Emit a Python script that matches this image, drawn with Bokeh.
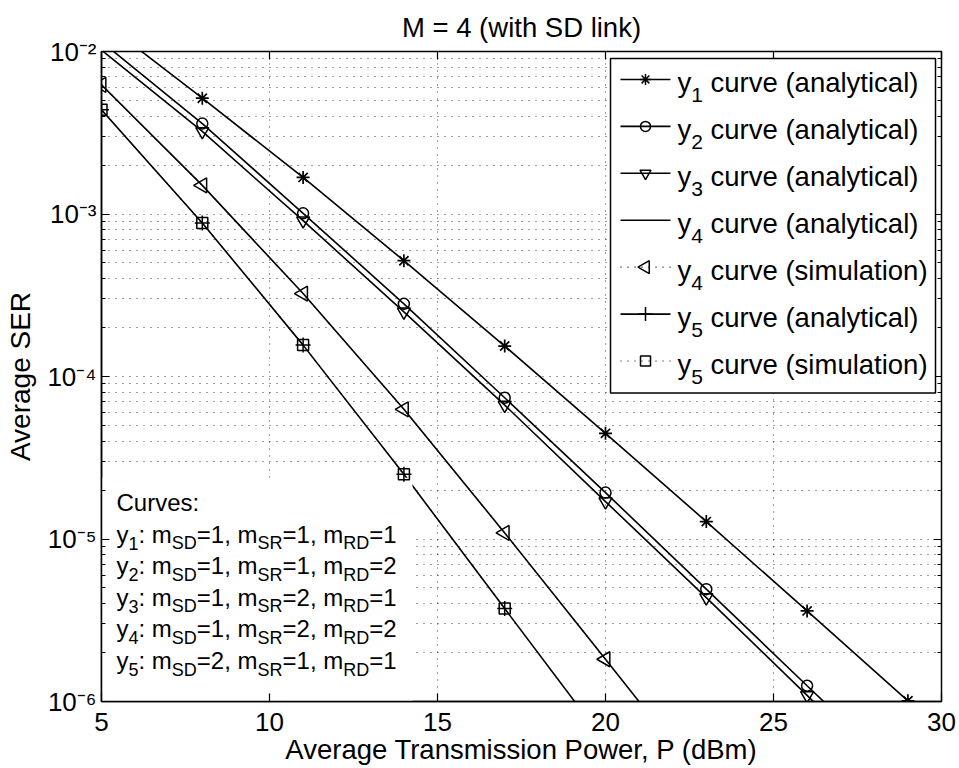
import numpy as np
from bokeh.plotting import figure
from bokeh.models import (Range1d, FixedTicker, LinearAxis, LogAxis, CustomJSTickFormatter)
from bokeh.embed import file_html
from bokeh.resources import INLINE
from bokeh.core.properties import value

# ---------------- data ----------------
x_ticks = [5, 10, 15, 20, 25, 30]
y_major_ticks = [1e-6, 1e-5, 1e-4, 1e-3, 1e-2]
y_minor_ticks = [m * d for d in [1e-6, 1e-5, 1e-4, 1e-3] for m in range(2, 10)]

power_db = [5, 8, 11, 14, 17, 20, 23, 26, 29]
y1_analytical = [1.55e-2, 5.16e-3, 1.68e-3, 5.16e-4, 1.54e-4, 4.47e-5, 1.28e-5, 3.61e-6, 1.01e-6]
y2_analytical = [1.15e-2, 3.60e-3, 1.01e-3, 2.80e-4, 7.40e-5, 1.93e-5, 4.91e-6, 1.25e-6, 3.2e-7]
y3_analytical = [1.02e-2, 3.22e-3, 9.10e-4, 2.50e-4, 6.67e-5, 1.70e-5, 4.36e-6, 1.09e-6, 2.7e-7]

power_y4 = [5, 8, 11, 14, 17, 20, 23]
y4_analytical = [6.24e-3, 1.50e-3, 3.24e-4, 6.28e-5, 1.09e-5, 1.82e-6, 3.0e-7]
power_y4_sim = [5, 8, 11, 14, 17, 20]
y4_simulation = [6.24e-3, 1.50e-3, 3.24e-4, 6.28e-5, 1.09e-5, 1.82e-6]

power_y5 = [5, 8, 11, 14, 17, 20]
y5_analytical = [4.38e-3, 8.81e-4, 1.56e-4, 2.50e-5, 3.73e-6, 5.6e-7]
power_y5_sim = [5, 8, 11, 14, 17]
y5_simulation = [4.38e-3, 8.81e-4, 1.56e-4, 2.50e-5, 3.73e-6]

# legend entries
leg_curve = ["1", "2", "3", "4", "4", "5", "5"]
leg_kind = ["analytical", "analytical", "analytical", "analytical", "simulation",
            "analytical", "simulation"]
leg_line = ["solid", "solid", "solid", "solid", "dotted", "solid", "dotted"]
leg_marker = ["asterisk", "circle", "inverted_triangle", None, "triangle", "cross", "square"]

# annotation entries
curve_names = ["1", "2", "3", "4", "5"]
m_sd = [1, 1, 1, 1, 2]
m_sr = [1, 1, 2, 2, 1]
m_rd = [1, 2, 1, 2, 1]

title_text = "M = 4 (with SD link)"
x_label = "Average Transmission Power, P (dBm)"
y_label = "Average SER"

# ---------------- layout constants ----------------
FONT = "Liberation Sans"
W, H = 959, 768
FL, FR, FT, FB = 101, 941, 50, 701
X0, X1 = 5, 30
YLO, YHI = 1e-6, 1e-2
TEXT_DY = -5   # small correction of the drawn text baseline


def x_from_px(px):
    return X0 + (px - FL) / (FR - FL) * (X1 - X0)


def y_from_px(py):
    lo, hi = np.log10(YLO), np.log10(YHI)
    return 10 ** (hi - (py - FT) / (FB - FT) * (hi - lo))


def in_range(xs, ys):
    pts = [(a, b) for a, b in zip(xs, ys) if YLO * 0.999 <= b <= YHI * 1.001]
    return [a for a, _ in pts], [b for _, b in pts]


ARIAL = {'C': 722, 'u': 556, 'r': 333, 'v': 500, 'e': 556, 's': 500, ':': 278, 'y': 500,
         '0': 556, '1': 556, '2': 556, '3': 556, '4': 556, '5': 556, ' ': 278, 'm': 833,
         'S': 667, 'D': 722, 'R': 722, '=': 584, ',': 278, 'c': 500, '(': 333, ')': 333,
         'a': 556, 'n': 556, 'l': 222, 't': 278, 'i': 222, 'o': 556}


def text_w(s, size):
    return sum(ARIAL.get(c, 556) for c in s) / 1000.0 * size


p = figure(width=W, height=H, x_range=Range1d(X0, X1), y_range=Range1d(YLO, YHI),
           y_axis_type="log", output_backend="svg", toolbar_location=None,
           min_border_left=FL, min_border_right=W - FR, min_border_top=FT,
           min_border_bottom=H - FB)
p.background_fill_color = "white"
p.border_fill_color = "white"
p.outline_line_color = "black"
p.outline_line_width = 1.5

# title
p.title.text = title_text
p.title.align = "center"
p.title.text_font = FONT
p.title.text_font_size = "27.5px"
p.title.text_font_style = "normal"
p.title.text_color = "black"
p.title.standoff = 18

# primary axes
xa = p.below[0]
xa.ticker = FixedTicker(ticks=x_ticks)
xa.axis_label = x_label
ya = p.left[0]
ya.ticker = FixedTicker(ticks=y_major_ticks, minor_ticks=y_minor_ticks)
ya.axis_label = y_label
ya.formatter = CustomJSTickFormatter(code="""
const sup = {'-': '\u207b', '0': '\u2070', '1': '\u00b9', '2': '\u00b2', '3': '\u00b3',
             '4': '\u2074', '5': '\u2075', '6': '\u2076', '7': '\u2077', '8': '\u2078', '9': '\u2079'};
const e = Math.round(Math.log10(tick));
return '10' + String(e).split('').map(c => sup[c]).join('');
""")
for ax in (xa, ya):
    ax.axis_line_color = "black"
    ax.axis_line_width = 1.5
    ax.major_tick_in = 8
    ax.major_tick_out = 0
    ax.minor_tick_in = 4
    ax.minor_tick_out = 0
    ax.major_tick_line_width = 1.2
    ax.minor_tick_line_width = 1.2
    ax.major_label_text_font = FONT
    ax.major_label_text_font_size = "26px"
    ax.major_label_text_color = "black"
    ax.axis_label_text_font = FONT
    ax.axis_label_text_font_style = "normal"
    ax.axis_label_text_color = "black"
xa.axis_label_text_font_size = "27.5px"
ya.axis_label_text_font_size = "28px"
xa.major_label_standoff = 11
xa.axis_label_standoff = 0
ya.major_label_standoff = 5
ya.axis_label_standoff = 8

# mirrored axes (ticks only, empty labels)
top_axis = LinearAxis(ticker=FixedTicker(ticks=x_ticks),
                      formatter=CustomJSTickFormatter(code="return '';"))
right_axis = LogAxis(ticker=FixedTicker(ticks=y_major_ticks, minor_ticks=y_minor_ticks),
                     formatter=CustomJSTickFormatter(code="return '';"))
for ax in (top_axis, right_axis):
    ax.axis_line_color = None
    ax.major_tick_in = 8
    ax.major_tick_out = 0
    ax.minor_tick_in = 4
    ax.minor_tick_out = 0
    ax.major_tick_line_width = 1.2
    ax.minor_tick_line_width = 1.2
    ax.major_label_text_font_size = "1px"
    ax.major_label_standoff = 0
p.add_layout(top_axis, "above")
p.add_layout(right_axis, "right")

# grids
for g in (p.xgrid, p.ygrid):
    g.grid_line_color = "black"
    g.grid_line_dash = "1 6"
    g.grid_line_alpha = 0.75
    g.grid_line_width = 1
p.ygrid.minor_grid_line_color = "black"
p.ygrid.minor_grid_line_dash = "1 6"
p.ygrid.minor_grid_line_alpha = 0.75

LW = 1.6
MLW = 1.5

# ---------------- curves: lines ----------------
p.line(power_db, y1_analytical, line_color="black", line_width=LW)
p.line(power_db, y2_analytical, line_color="black", line_width=LW)
p.line(power_db, y3_analytical, line_color="black", line_width=LW)
p.line(power_y4, y4_analytical, line_color="black", line_width=LW)
p.line(power_y4_sim, y4_simulation, line_color="black", line_width=1.2, line_dash="1 6")
p.line(power_y5, y5_analytical, line_color="black", line_width=LW)
p.line(power_y5_sim, y5_simulation, line_color="black", line_width=1.2, line_dash="1 6")

# white background of the annotation text box (above the lines, below the markers)
p.quad(left=[X0], right=[x_from_px(412)], bottom=[YLO], top=[y_from_px(477)],
       fill_color="white", line_color=None)

# ---------------- curves: markers ----------------
mx, my = in_range(power_db, y1_analytical)
p.scatter(mx, my, marker="asterisk", size=13, line_color="black", line_width=1.7)
mx, my = in_range(power_db, y2_analytical)
p.scatter(mx, my, marker="circle", size=11, line_color="black", line_width=MLW, fill_color=None)
mx, my = in_range(power_db, y3_analytical)
p.scatter(mx, my, marker="inverted_triangle", size=13, line_color="black", line_width=MLW,
          fill_color=None)
mx, my = in_range(power_y4_sim, y4_simulation)
p.scatter(mx, my, marker="triangle", angle=np.pi / 2, size=15, line_color="black",
          line_width=MLW, fill_color=None)
mx, my = in_range(power_y5, y5_analytical)
p.scatter(mx, my, marker="cross", size=15, line_color="black", line_width=MLW)
mx, my = in_range(power_y5_sim, y5_simulation)
p.scatter(mx, my, marker="square", size=11, line_color="black", line_width=MLW, fill_color=None)


def draw_text_pieces(pieces, level="glyph"):
    """pieces: list of (text, px, py, size) in picture pixels."""
    by_size = {}
    for t, px, py, sz in pieces:
        by_size.setdefault(sz, []).append((t, px, py))
    for sz, lst in by_size.items():
        n = len(lst)
        p.text(x=[X0] * n, y=[YLO] * n, text=[a[0] for a in lst],
               x_offset=[a[1] - FL for a in lst],
               y_offset=[a[2] - FB + TEXT_DY for a in lst],
               text_font=value(FONT), text_font_size="%gpx" % sz,
               text_baseline="alphabetic", text_align="left", text_color="black",
               level=level)


# ---------------- annotation text with subscripts ----------------
MAIN, SUB, SUB_SHIFT = 24, 18, 9
ann_left = 116
baselines = [507, 538.6, 570.2, 601.8, 633.4, 665]
pieces = [("Curves:", ann_left, baselines[0], MAIN)]
for i, name in enumerate(curve_names):
    segs = [("y", False), (name, True), (": m", False), ("SD", True),
            ("=%d, m" % m_sd[i], False), ("SR", True), ("=%d, m" % m_sr[i], False),
            ("RD", True), ("=%d" % m_rd[i], False)]
    cx = ann_left
    by = baselines[i + 1]
    for s, is_sub in segs:
        if is_sub:
            pieces.append((s, cx, by + SUB_SHIFT, SUB))
            cx += text_w(s, SUB)
        else:
            pieces.append((s, cx, by, MAIN))
            cx += text_w(s, MAIN)
draw_text_pieces(pieces)

# ---------------- legend (drawn by hand, above the axes) ----------------
LG_L, LG_R, LG_T, LG_B = 610, 935, 57, 392
row_py = [78 + 47 * i for i in range(len(leg_curve))]
p.quad(left=[x_from_px(LG_L)], right=[x_from_px(LG_R)], bottom=[y_from_px(LG_B)],
       top=[y_from_px(LG_T)], fill_color="white", line_color="black", line_width=1.5,
       level="overlay")
solid_xs, solid_ys, dot_xs, dot_ys = [], [], [], []
for style, py in zip(leg_line, row_py):
    seg_x = [x_from_px(620), x_from_px(670)]
    seg_y = [y_from_px(py), y_from_px(py)]
    if style == "solid":
        solid_xs.append(seg_x); solid_ys.append(seg_y)
    else:
        dot_xs.append(seg_x); dot_ys.append(seg_y)
p.multi_line(solid_xs, solid_ys, line_color="black", line_width=LW, level="overlay")
p.multi_line(dot_xs, dot_ys, line_color="black", line_width=1.2, line_dash="1 6",
             level="overlay")
leg_sizes = {"asterisk": 11, "circle": 10, "inverted_triangle": 11, "triangle": 13,
             "cross": 14, "square": 10}
mk_x, mk_y, mk_m, mk_s, mk_a = [], [], [], [], []
for m, py in zip(leg_marker, row_py):
    if m is None:
        continue
    mk_x.append(x_from_px(645)); mk_y.append(y_from_px(py)); mk_m.append(m)
    mk_s.append(leg_sizes[m]); mk_a.append(np.pi / 2 if m == "triangle" else 0.0)
p.scatter(x=mk_x, y=mk_y, marker=mk_m, size=mk_s, angle=mk_a, line_color="black",
          line_width=MLW, fill_color=None, level="overlay")

LMAIN, LSUB, LSUB_SHIFT = 27.5, 21, 12
leg_pieces = []
for c, k, py in zip(leg_curve, leg_kind, row_py):
    bx = 677
    by = py + 9
    leg_pieces.append(("y", bx, by, LMAIN))
    bx += text_w("y", LMAIN)
    leg_pieces.append((c, bx, by + LSUB_SHIFT, LSUB))
    bx += text_w(c, LSUB) + text_w(" ", LMAIN)
    leg_pieces.append(("curve (%s)" % k, bx, by, LMAIN))
draw_text_pieces(leg_pieces, level="overlay")

open("out.html", "w").write(file_html(p, INLINE))
